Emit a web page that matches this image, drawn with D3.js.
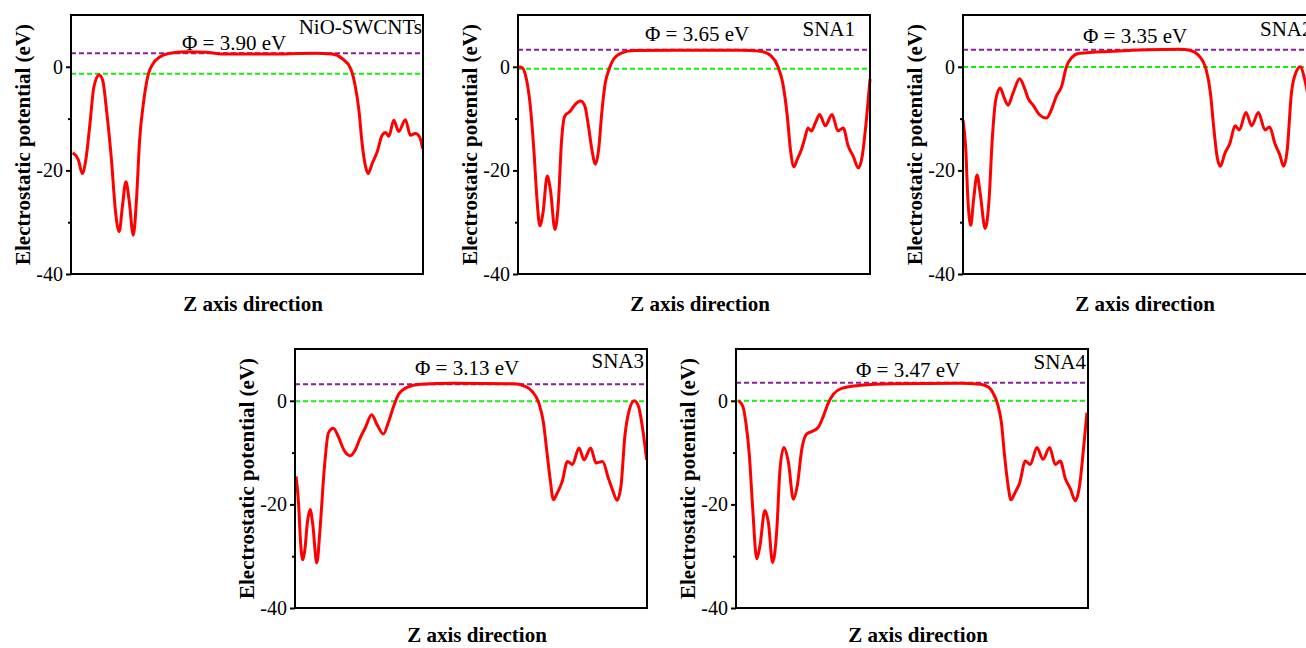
<!DOCTYPE html>
<html>
<head>
<meta charset="utf-8">
<script src="https://cdn.jsdelivr.net/npm/d3@7"></script>
<style>
  body { margin: 0; background: #fff; }
  svg { display: block; font-family: "Liberation Serif", "Times New Roman", serif; }
</style>
</head>
<body>
<svg id="chart" width="1306" height="648"></svg>
<script>
// curves, z in % of the cell, potential in eV
const zNiO = [0.5, 2.1, 3.2, 4.2, 5.4, 6.5, 8.0, 9.0, 10.1, 11.5, 12.7, 13.7, 14.6, 15.6, 16.5, 17.7, 18.6, 19.5, 20.7, 21.9, 23.3, 25.2, 28, 32.7, 38.4, 44, 55.4, 69.5, 74.2, 77, 79.4, 80.8, 81.8, 82.7, 83.7, 84.4, 85.6, 87, 88.4, 89.4, 90.3, 91.7, 93.1, 95, 96.4, 97.8, 99, 99.9]
const vNiO = [-16.6, -18, -20.6, -18, -10.9, -3.9, -1.6, -2.6, -8.4, -18, -28.3, -31.8, -27, -22.2, -25.7, -32.5, -25.7, -14.1, -6.4, -1.6, 0.6, 1.9, 2.6, 2.9, 2.8, 2.45, 2.45, 2.6, 2.45, 1.6, -0.3, -3.9, -8.4, -14.8, -19.3, -20.6, -18.6, -16.4, -13.2, -12.7, -13.4, -10.3, -12.5, -10.2, -13.2, -12.9, -13.5, -15.8]

const zSNA1 = [0.3, 1.2, 2.4, 3.5, 4.5, 5.4, 6.2, 7.1, 8.3, 9.2, 10.5, 11.4, 12.4, 13.3, 14.8, 16.2, 17.8, 19, 20, 21, 22, 22.9, 23.8, 24.8, 25.7, 27.1, 29.5, 32.9, 44.3, 63.3, 69, 71.9, 73.8, 75.2, 76.5, 77.4, 78.4, 79.3, 80.5, 81.4, 82.4, 83.3, 84.5, 85.7, 87.3, 89.2, 90.9, 92.4, 93.8, 95.2, 96.7, 97.8, 98.8, 100]
const vSNA1 = [0, -0.2, -2.4, -7.6, -16, -25.6, -30.7, -28.2, -21.1, -23.7, -31.4, -26.9, -14, -9.5, -8.6, -7.3, -6.6, -7.6, -11.4, -16, -18.8, -16, -8.9, -3.1, -0.8, 1.4, 2.7, 3.15, 3.2, 3.2, 3.0, 2.1, 0.1, -3.1, -9.5, -16, -19.3, -17.9, -16, -14, -11.8, -12.4, -10.8, -9.2, -11.4, -9.2, -12.4, -11.8, -15.3, -17.2, -19.5, -17.2, -11.4, -2.4]

const zSNA2 = [0, 0.8, 1.4, 2.2, 3.0, 4.0, 4.9, 6.3, 7.4, 8.3, 9.3, 10.6, 11.6, 12.8, 14.2, 16.1, 17.5, 18.5, 19.9, 21.8, 23.7, 25.1, 26.5, 28, 29.4, 30.8, 33.1, 42.6, 52.1, 61.6, 64.4, 66.8, 68.2, 69.1, 70.3, 71.2, 72.2, 73.1, 74.4, 75.8, 77.3, 78.5, 80.4, 82, 83.9, 85.8, 87.1, 88.6, 90, 91.1, 92.1, 93.3, 94.7, 95.8, 97.1, 98.3, 100]
const vSNA2 = [-10.3, -16.1, -25.7, -30.6, -25.7, -20.9, -24.5, -31.2, -25.7, -14.1, -6.4, -4.1, -5.8, -7.4, -5.1, -2.3, -4.2, -6.1, -7.4, -9.3, -9.9, -8.3, -5.7, -3.8, 0.06, 1.7, 2.6, 3.0, 3.3, 3.4, 3.2, 2.3, 1.0, -0.6, -5.1, -11.5, -17.4, -19.2, -16.7, -14.8, -11.4, -12.2, -8.8, -11.4, -8.8, -12.2, -11.6, -14.8, -17, -19.2, -16.1, -5.1, -0.9, 0, -2.5, -6.4, -10.9]

const zSNA3 = [0.3, 1, 1.6, 2.2, 2.8, 3.5, 4.3, 5.0, 6.2, 7.1, 8.3, 9.5, 10.9, 12.3, 13.9, 15.7, 17.1, 18.5, 19.9, 21.8, 23.3, 25.1, 26.6, 28, 29.4, 31.8, 35.6, 45.1, 62.2, 65, 67.4, 69.3, 70.6, 71.5, 72.5, 73.4, 74.5, 75.9, 77.4, 78.8, 80.7, 82.1, 84, 85.5, 87.4, 89, 90.2, 91.5, 92.6, 93.7, 95, 96.4, 97.6, 98.8, 99.9]
const vSNA3 = [-14.6, -19.7, -27.5, -30.7, -28.8, -23.6, -21, -23.6, -31.3, -24.9, -13.3, -6.2, -5.3, -6.9, -9.5, -10.6, -9.5, -7.2, -5.3, -2.7, -4.6, -6.4, -4, -1.1, 1.2, 2.6, 3.2, 3.4, 3.3, 2.9, 1.8, -0.5, -4.3, -9.5, -15.2, -19.1, -17.8, -15.6, -11.7, -12.3, -9.1, -11.4, -9.1, -12, -11.7, -14.9, -17.2, -19.2, -16.5, -6.9, -1.7, 0, -1.1, -5.6, -11.4]

const zSNA4 = [0.7, 1.9, 2.8, 3.8, 4.7, 5.9, 6.8, 8.2, 9.2, 10.4, 11.6, 12.5, 13.6, 14.9, 16.3, 17.4, 18.7, 20.1, 22, 23.4, 24.8, 26.3, 27.7, 30, 35.3, 44.7, 63.7, 69.4, 71.8, 73.2, 74.3, 75.4, 76.3, 77.3, 78.1, 79.3, 80.6, 82.2, 83.6, 85.5, 87.2, 89.1, 90.7, 92.1, 93.6, 95, 96.4, 97.6, 98.8, 99.7]
const vSNA4 = [0, -1, -4.2, -10.6, -20.3, -30.5, -28, -21.2, -23.5, -31.2, -24.8, -13.2, -9, -11.9, -19, -16.4, -9.3, -6.4, -5.8, -5.1, -3, -0.3, 1.3, 2.4, 3.0, 3.3, 3.4, 3.2, 2.6, 1.3, -0.6, -4.2, -10.6, -16.4, -19.1, -17.7, -15.8, -11.6, -12.3, -9, -11.3, -9, -12.3, -11.6, -15.1, -17, -19.3, -16.4, -8.7, -2.3]

const names = ['NiO-SWCNTs', 'SNA1', 'SNA2', 'SNA3', 'SNA4']
const workFunctions = ['3.90', '3.65', '3.35', '3.13', '3.47']
const vacuumLevels = [2.6, 3.3, 3.3, 3.2, 3.5]
const fermiLevels = [-1.35, -0.4, -0.05, -0.1, 0]
const yTicks = [-40, -20, 0]
const yMinor = [-30, -10]

const series = [[zNiO, vNiO], [zSNA1, vSNA1], [zSNA2, vSNA2], [zSNA3, vSNA3], [zSNA4, vSNA4]]

// where each frame sits, and where its labels go
const layout = [
  {x: 71, y: 15, phiX: 111, phiY: 35, nameX: 351, nameY: 19, end: true, zY: 37},
  {x: 518, y: 15, phiX: 127, phiY: 26, nameX: 337, nameY: 21, end: true, zY: 37},
  {x: 963, y: 15, phiX: 120, phiY: 28, nameX: 297, nameY: 21, end: false, zY: 37},
  {x: 295, y: 349, phiX: 120, phiY: 26, nameX: 349, nameY: 19, end: true, zY: 34},
  {x: 736, y: 349, phiX: 120, phiY: 28, nameX: 350, nameY: 20, end: true, zY: 34},
]

const W = 352, H = 259
const svg = d3.select('#chart')

const x = d3.scaleLinear().domain([0, 100]).range([0, W])
const y = d3.scaleLinear().domain([-40, 10]).range([H, 0])

layout.forEach((p, i) => {
  const g = svg.append('g').attr('transform', `translate(${p.x},${p.y})`)
  const [zs, vs] = series[i]

  // reference lines
  g.append('line')
    .attr('x1', 0).attr('x2', W)
    .attr('y1', y(vacuumLevels[i])).attr('y2', y(vacuumLevels[i]))
    .attr('stroke', '#8a1f9a').attr('stroke-width', 2).attr('stroke-dasharray', '5,3')
  g.append('line')
    .attr('x1', 0).attr('x2', W)
    .attr('y1', y(fermiLevels[i])).attr('y2', y(fermiLevels[i]))
    .attr('stroke', '#11ee11').attr('stroke-width', 2).attr('stroke-dasharray', '5,3')

  const line = d3.line().x(d => x(d[0])).y(d => y(d[1])).curve(d3.curveMonotoneX)
  g.append('path')
    .datum(d3.zip(zs, vs))
    .attr('d', line)
    .attr('fill', 'none').attr('stroke', '#ff0000').attr('stroke-width', 3)

  // frame
  g.append('rect').attr('width', W).attr('height', H)
    .attr('fill', 'none').attr('stroke', '#000').attr('stroke-width', 2)

  const ax = g.append('g')
    .call(d3.axisLeft(y).tickValues(yTicks).tickSize(5).tickPadding(3).tickFormat(d => String(d)))
  ax.select('.domain').remove()
  ax.selectAll('line').attr('stroke-width', 2)
  ax.selectAll('text').attr('font-size', 20).attr('font-family', '"Liberation Serif", serif').attr('fill', '#000')

  g.append('g')
    .call(d3.axisLeft(y).tickValues(yMinor).tickSize(3).tickFormat(''))
    .call(a => a.select('.domain').remove())
    .selectAll('line').attr('stroke-width', 2)

  g.append('text')
    .attr('transform', `translate(-41,${H / 2}) rotate(-90)`)
    .attr('text-anchor', 'middle')
    .attr('font-size', 21).attr('font-weight', 'bold')
    .text('Electrostatic potential (eV)')

  g.append('text')
    .attr('x', W / 2 + 6).attr('y', H + p.zY)
    .attr('text-anchor', 'middle')
    .attr('font-size', 21).attr('font-weight', 'bold')
    .text('Z axis direction')

  g.append('text')
    .attr('x', p.phiX).attr('y', p.phiY)
    .attr('font-size', 21)
    .text(`Φ = ${workFunctions[i]} eV`)

  g.append('text')
    .attr('x', p.nameX).attr('y', p.nameY)
    .attr('text-anchor', p.end ? 'end' : 'start')
    .attr('font-size', 21)
    .text(names[i])
})
</script>
</body>
</html>
